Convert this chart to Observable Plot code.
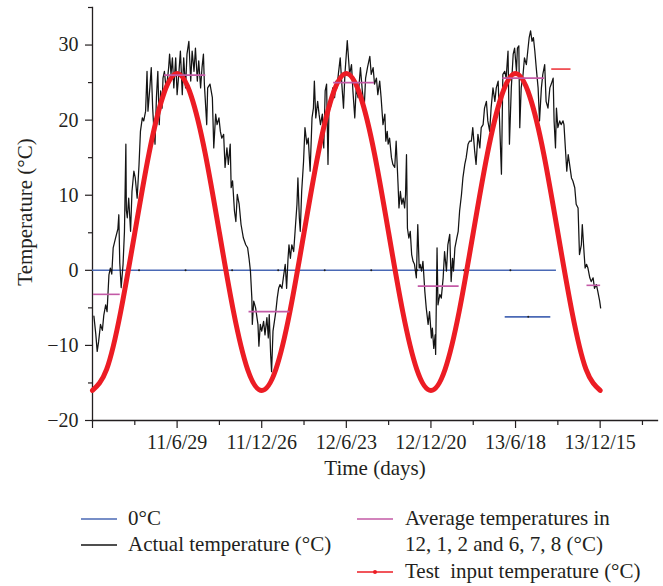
<!DOCTYPE html>
<html><head><meta charset="utf-8">
<script src="https://cdn.jsdelivr.net/npm/d3@7"></script>
<script src="https://cdn.jsdelivr.net/npm/@observablehq/plot@0.6"></script>
<style>
body{margin:0;background:#fff;}
#wrap{position:relative;width:663px;height:586px;font-family:"Liberation Serif",serif;color:#231f20;overflow:hidden;}
#legend{position:absolute;left:0;top:490px;width:663px;height:96px;}
.item{position:absolute;font-size:21px;line-height:21px;white-space:pre;}
.sw{position:absolute;}
</style></head><body><div id="wrap"><div id="chart"></div><div id="legend"></div></div>
<script>
// Actual temperature (days since 2010-12-29, °C)
const actualDay = [3,7,10,13,17,21,24,28,31,35,38,41,44,49,54,56,58,61,65,68,71,72,74,77,81,84,88,91,95,99,102,106,109,113,116,118,122,125,128,130,133,136,139,142,145,148,150,153,157,162,164,167,170,173,177,180,184,187,191,194,198,201,205,209,212,216,219,223,226,230,233,236,238,243,245,250,255,258,262,265,269,272,
275,279,282,286,289,293,295,298,302,305,308,312,316,321,326,330,333,336,339,340,343,347,352,354,357,360,364,367,371,374,376,379,381,384,387,390,393,396,399,403,406,410,413,416,418,421,424,428,431,435,437,440,442,445,449,452,456,459,463,467,470,472,475,479,482,485,489,492,495,498,501,503,508,511,515,518,520,523,527,530,534,537,542,
547,551,554,558,561,565,570,574,578,581,585,590,593,597,600,604,607,611,614,618,622,624,627,629,632,636,639,643,646,650,652,655,658,661,664,666,668,670,673,676,679,682,685,689,692,695,697,700,703,707,710,714,717,721,723,726,729,730,733,735,739,742,746,749,753,756,760,763,766,768,771,775,778,781,785,788,792,795,799,802,806,809,813,
816,820,824,827,831,834,838,841,845,848,852,856,859,863,866,870,873,877,880,884,887,891,895,898,902,904,907,909,912,916,919,923,926,929,932,935,938,941,944,948,951,955,958,962,965,969,973,976,980,982,985,987,990,994,997,1001,1003,1006,1009,1012,1015,1019,1022,1026,1029,1033,1036,1040,1042,1046,1048,1051,1054,1058,1061,1065,1068,1072,1075,1079,1081];
const actualTemp = [-6.1,-8.5,-10.8,-9.5,-7.2,-8.0,-6.0,-4.6,-5.5,-0.6,0.3,-0.5,3.0,4.3,5.5,7.4,1.0,-2.3,0.8,5.2,16.8,8.0,7.0,9.6,5.2,10.5,13.2,12.3,9.6,14.1,18.5,20.3,19.9,21.2,26.5,21.2,24.3,27.0,21.6,19.4,16.8,23.0,26.5,19.4,23.9,21.6,25.6,26.5,23.9,27.0,28.8,26.1,28.3,24.3,28.3,23.4,26.5,29.2,23.4,28.3,24.3,28.8,30.5,25.2,29.2,26.5,29.6,25.2,27.9,24.3,27.0,28.8,24.8,19.4,24.3,24.8,23.0,16.3,20.8,19.4,20.3,18.5,
17.6,18.1,13.7,16.3,14.1,16.8,11.0,11.9,7.9,6.5,10.1,8.8,6.1,4.3,3.4,3.0,1.6,-0.1,-3.7,-7.2,-4.1,-5.0,-7.2,-10.1,-7.2,-8.1,-6.8,-8.6,-6.3,-9.0,-5.9,-11.2,-13.5,-8.1,-6.8,-5.5,-3.7,-2.4,-1.9,-2.4,-1.0,0.8,-2.4,1.6,3.4,1.6,3.4,2.5,5.2,8.8,12.3,7.0,5.2,10.5,14.5,19.0,16.8,17.6,13.2,20.3,21.6,25.2,20.3,22.5,20.8,19.4,20.8,16.3,23.9,24.8,14.1,21.2,22.1,24.3,23.0,25.2,24.3,26.1,28.3,25.2,21.6,26.1,30.6,
26.1,27.4,23.9,20.3,24.3,23.0,27.0,23.9,21.6,25.6,27.0,28.5,26.1,27.0,24.8,25.6,23.4,25.2,23.0,19.4,20.8,17.2,18.5,16.8,17.6,15.0,14.1,13.7,17.2,11.5,8.3,10.5,8.8,9.6,8.3,10.1,15.4,5.6,4.3,5.2,2.1,1.2,0.8,-1.0,6.1,0.3,0.8,-0.1,1.2,-2.8,-5.0,-7.2,-5.5,-9.0,-7.7,-10.4,-8.6,-11.2,3.0,-4.6,-3.2,-3.7,-1.0,2.5,-0.1,3.4,4.8,-1.5,1.6,-0.1,3.0,4.3,5.2,7.9,10.1,12.3,14.1,15.0,16.8,17.2,17.2,19.0,15.9,14.1,
18.1,16.3,19.0,19.4,21.6,22.5,19.9,18.5,21.6,24.3,22.5,24.3,25.2,19.9,12.8,26.1,26.5,25.6,29.2,16.8,24.3,28.8,29.6,26.5,29.6,29.9,19.0,24.3,26.1,28.3,27.4,29.2,31.0,31.9,30.5,31.0,29.2,27.0,24.3,19.9,24.3,26.1,27.4,22.5,21.6,24.3,24.8,25.6,19.9,16.3,21.6,19.0,19.9,19.4,19.9,19.4,16.3,13.2,15.4,14.1,12.3,11.9,11.0,8.8,8.3,2.1,3.4,6.1,2.1,0.3,0.8,0.3,-1.0,-1.5,-1.0,-2.4,-1.9,-2.8,-4.1,-5.0,-5.9];

// Test input temperature, read every 30 days
const testDay = [0,30,60,90,120,150,180,210,240,270,300,330,360,390,420,450,480,510,540,570,600,630,660,690,720,750,780,810,840,870,900,930,960,990,1020,1050,1080];
const testTemp = [-16,-13.2,-5.5,5,15.5,23.2,26.2,23.2,15.5,5,-5.5,-13.2,-16,-13.2,-5.5,5,15.5,23.2,26.2,23.2,15.5,5,-5.5,-13.2,-16,-13.2,-5.5,5,15.5,23.2,26.2,23.2,15.5,5,-5.5,-13.2,-16];

// Average temperatures in 12,1,2 and 6,7,8
const avgStart = [2,153,333,513,693,873,1052];
const avgEnd   = [59,241,420,600,780,962,1081];
const avgTemp  = [-3.2,26.0,-5.5,25.0,-2.1,25.6,-2.0];

// 0°C reference lines (blue)
const zeroStart = [0,878];
const zeroEnd   = [987,975];
const zeroTemp  = [0,-6.2];
const zeroDotDay  = [99,198,297,395,494,593,691,790,889,927];
const zeroDotTemp = [0,0,0,0,0,0,0,0,0,-6.2];

// short red segment
const redStart = [977], redEnd = [1018], redTemp = [26.8];

// axes
const yTicks = [-20,-10,0,10,20,30];
const yMinor = [-15,-5,5,15,25,35];
const xTickDays = [0,180,360,540,720,900,1080];
const xTickLabels = ["","11/6/29","11/12/26","12/6/23","12/12/20","13/6/18","13/12/15"];
const xMinor = [90,270,450,630,810,990,1170];

const actual = actualDay.map((d,i)=>({d, t: actualTemp[i]}));
const test = testDay.map((d,i)=>({d, t: testTemp[i]}));
const avg = avgTemp.map((t,i)=>({a: avgStart[i], b: avgEnd[i], t}));
const zero = zeroTemp.map((t,i)=>({a: zeroStart[i], b: zeroEnd[i], t}));
const zdots = zeroDotDay.map((d,i)=>({d, t: zeroDotTemp[i]}));
const red = redTemp.map((t,i)=>({a: redStart[i], b: redEnd[i], t}));

const AX = "#231f20";
const plot = Plot.plot({
  width: 663, height: 490,
  marginLeft: 92, marginRight: 6, marginTop: 7, marginBottom: 70,
  style: {fontFamily: "'Liberation Serif', serif", fontSize: "20px", color: AX, background: "#fff"},
  x: {domain: [0, 1202]},
  y: {domain: [-20, 35]},
  marks: [
    Plot.axisY({ticks: yTicks, tickSize: 7, tickPadding: 7, label: null, tickFormat: d => d < 0 ? "\u2212" + Math.abs(d) : String(d), stroke: AX, strokeWidth: 1.2}),
    Plot.axisY({ticks: yMinor, tickSize: 4, label: null, tickFormat: () => "", stroke: AX, strokeWidth: 1.2}),
    Plot.axisX({ticks: xTickDays, tickSize: 8, tickPadding: 6, label: null, tickFormat: d => xTickLabels[xTickDays.indexOf(d)], stroke: AX, strokeWidth: 1.2}),
    Plot.axisX({ticks: xMinor, tickSize: 5, label: null, tickFormat: () => "", stroke: AX, strokeWidth: 1.2}),
    Plot.frame({anchor: "left", stroke: AX, strokeWidth: 1.3}),
    Plot.frame({anchor: "bottom", stroke: AX, strokeWidth: 1.3}),
    Plot.ruleY(zero, {y: "t", x1: "a", x2: "b", stroke: "#4a69b5", strokeWidth: 1.6}),
    Plot.dot(zdots, {x: "d", y: "t", r: 1, fill: "#222", stroke: null}),
    Plot.line(actual, {x: "d", y: "t", stroke: "#141414", strokeWidth: 1.25}),
    Plot.line(test, {x: "d", y: "t", stroke: "#ec1c24", strokeWidth: 5, curve: "natural"}),
    Plot.ruleY(avg, {y: "t", x1: "a", x2: "b", stroke: "#c35aa6", strokeWidth: 1.6}),
    Plot.ruleY(red, {y: "t", x1: "a", x2: "b", stroke: "#ee3a3f", strokeWidth: 1.6}),
    Plot.text(["Time (days)"], {frameAnchor: "bottom", dy: 54, fontSize: 21, fill: AX}),
    Plot.text(["Temperature (\u00b0C)"], {frameAnchor: "left", dx: -67, dy: -2, rotate: -90, textAnchor: "middle", fontSize: 21, fill: AX})
  ]
});
document.getElementById("chart").appendChild(plot);

// legend
const legendItems = [
  {col: 0, row: 0, color: "#4a69b5", label: "0\u00b0C", dot: false},
  {col: 0, row: 1, color: "#141414", label: "Actual temperature (\u00b0C)", dot: false},
  {col: 1, row: 0, color: "#c35aa6", label: "Average temperatures in", dot: false},
  {col: 1, row: 1, color: null, label: "12, 1, 2 and 6, 7, 8 (\u00b0C)", dot: false},
  {col: 1, row: 2, color: "#ec1c24", label: "Test  input temperature (\u00b0C)", dot: true}
];
const rowY = [29, 55, 82];
const colSw = [81, 357];
const colTx = [128, 405];
const lg = document.getElementById("legend");
legendItems.forEach(it => {
  if (it.color) {
    const s = document.createElementNS("http://www.w3.org/2000/svg", "svg");
    s.setAttribute("class", "sw");
    s.setAttribute("width", 36); s.setAttribute("height", 10);
    s.style.left = colSw[it.col] + "px"; s.style.top = (rowY[it.row] - 5) + "px";
    s.innerHTML = `<line x1="0" x2="36" y1="5" y2="5" stroke="${it.color}" stroke-width="1.6"/>` +
      (it.dot ? `<circle cx="18" cy="5" r="2" fill="${it.color}"/>` : "");
    lg.appendChild(s);
  }
  const t = document.createElement("div");
  t.className = "item";
  t.textContent = it.label;
  t.style.left = colTx[it.col] + "px";
  t.style.top = (rowY[it.row] - 11) + "px";
  lg.appendChild(t);
});
</script>
</body></html>
